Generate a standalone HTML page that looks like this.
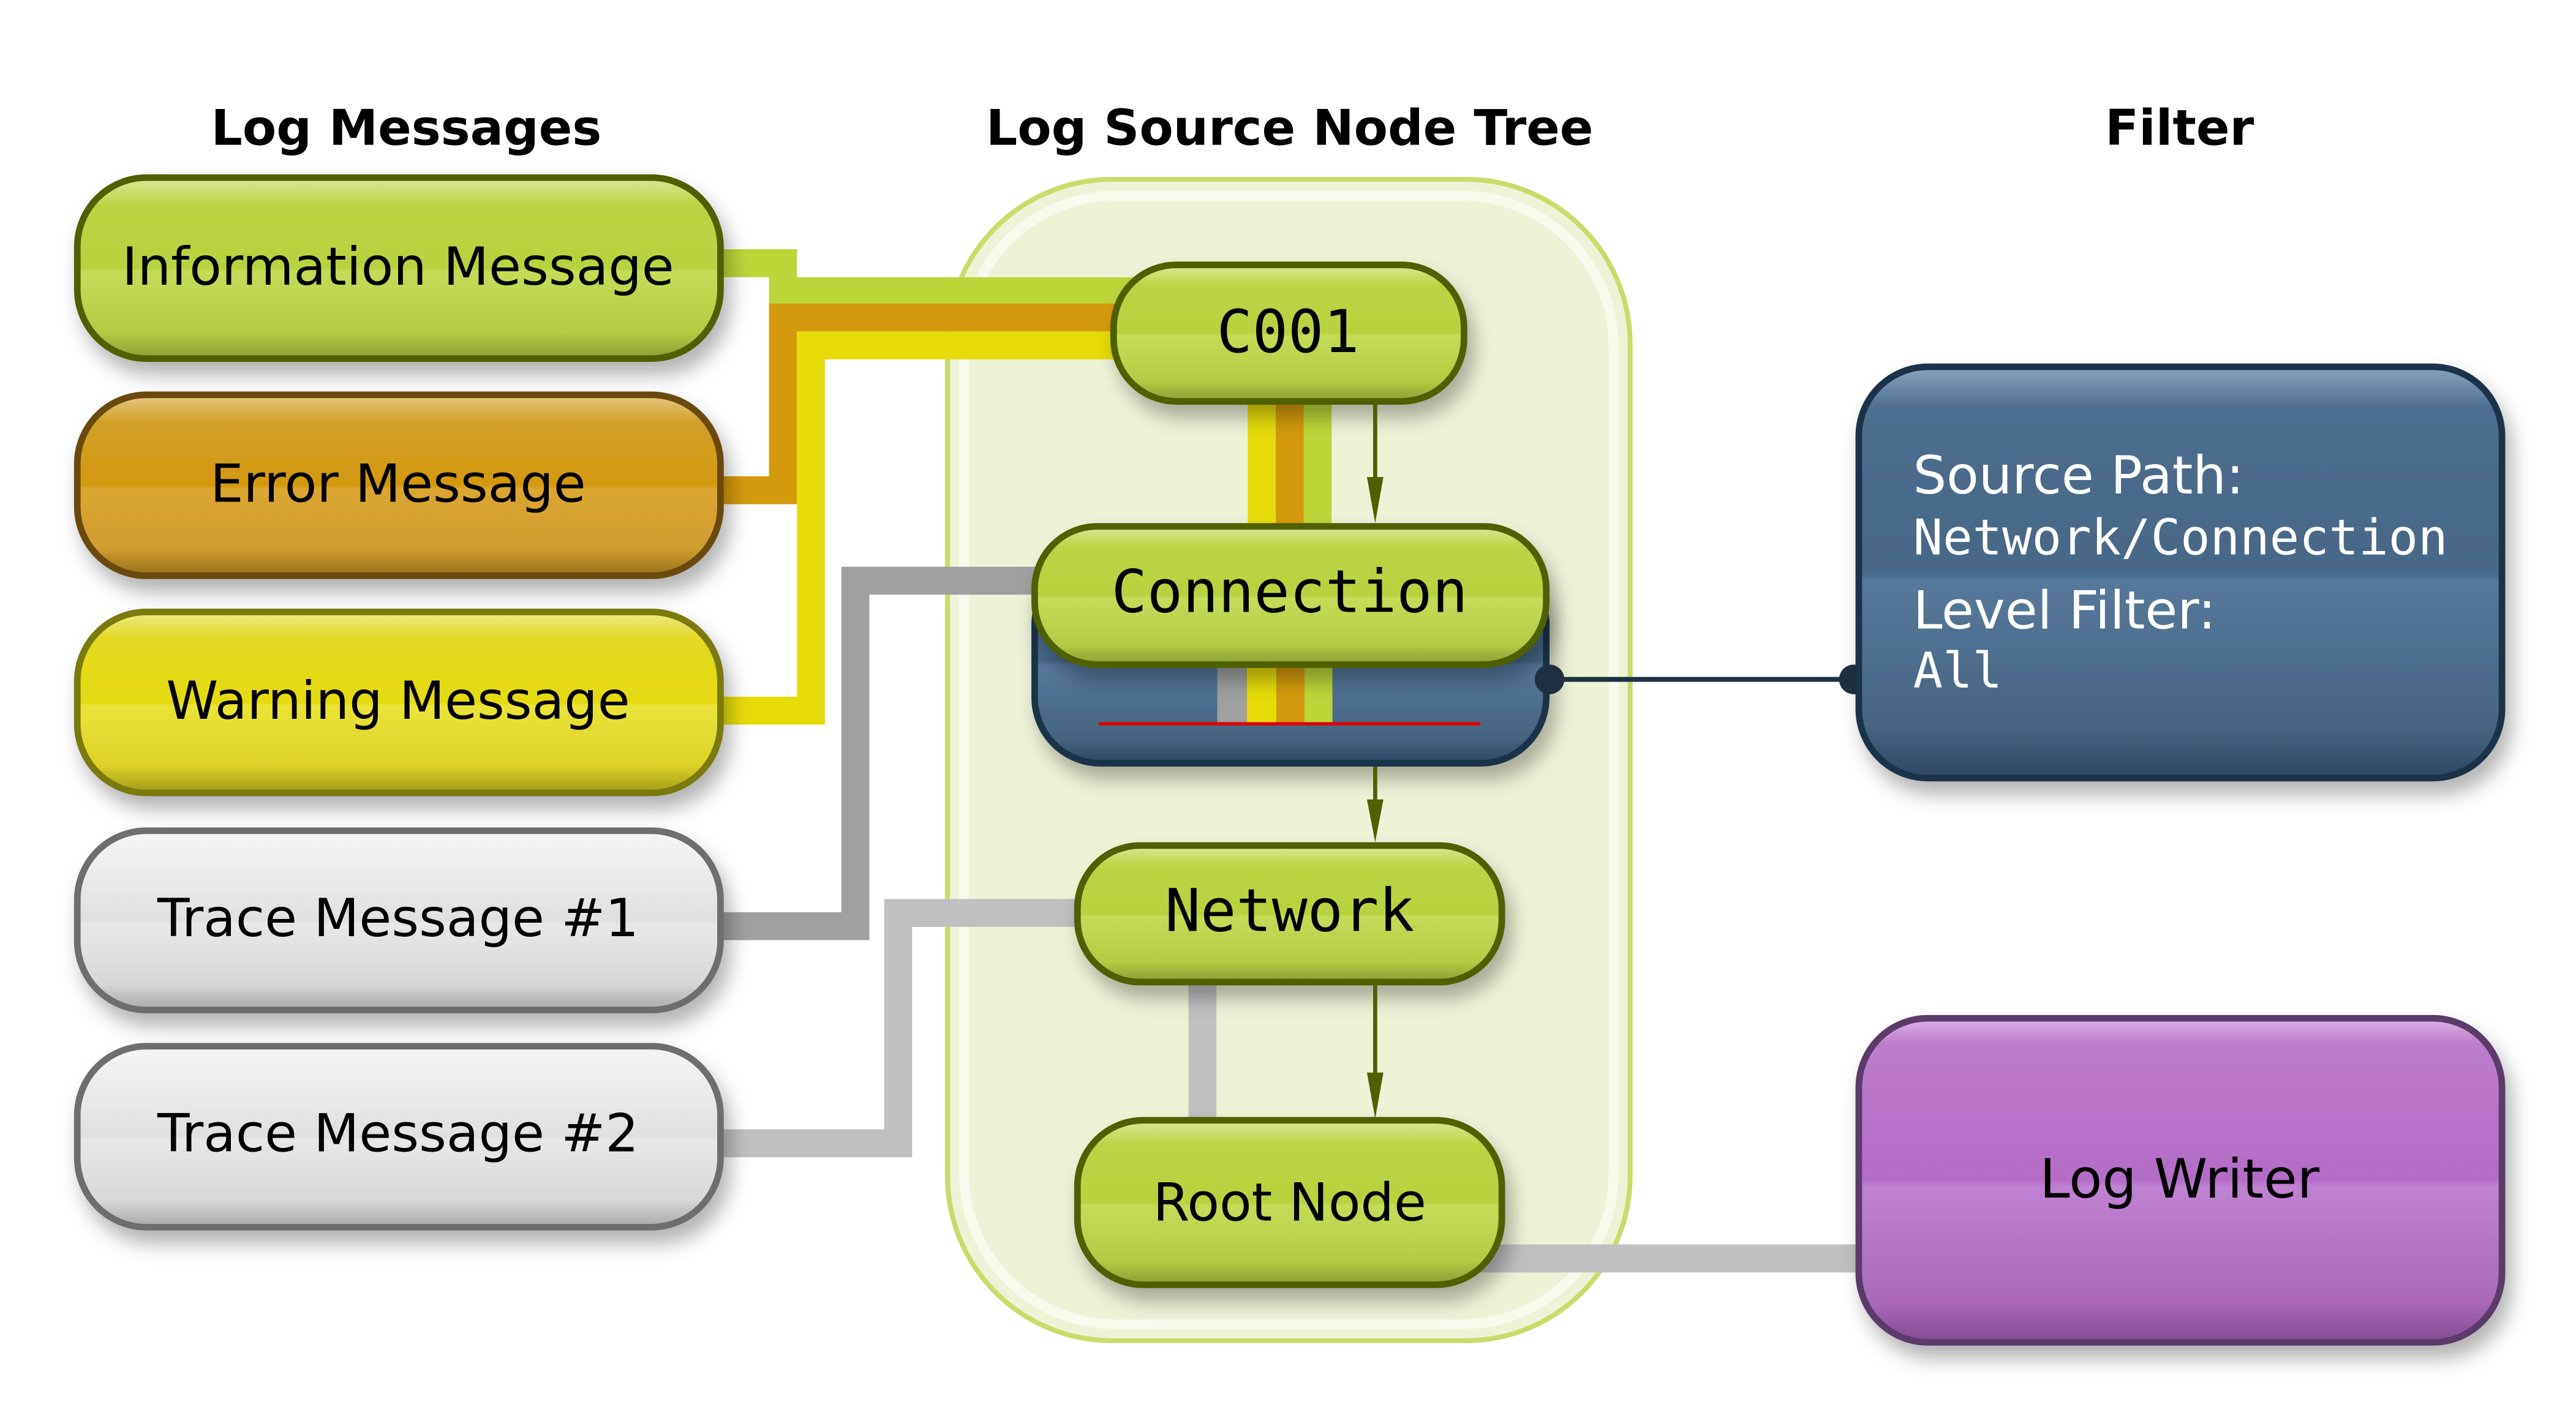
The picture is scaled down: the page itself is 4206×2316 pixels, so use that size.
<!DOCTYPE html>
<html><head><meta charset="utf-8"><style>html,body{margin:0;padding:0;background:#fff}svg{display:block}</style></head>
<body>
<svg width="4206" height="2316" viewBox="0 0 1566 862" preserveAspectRatio="none" xmlns="http://www.w3.org/2000/svg">
<defs>
<linearGradient id="gG" x1="0" y1="0" x2="0" y2="1"><stop offset="0" stop-color="#dde89a"/><stop offset="0.15" stop-color="#bcd444"/><stop offset="0.5" stop-color="#b9d240"/><stop offset="0.52" stop-color="#c4dc58"/><stop offset="0.85" stop-color="#b4cc44"/><stop offset="1" stop-color="#8a9c34"/></linearGradient>
<linearGradient id="gO" x1="0" y1="0" x2="0" y2="1"><stop offset="0" stop-color="#e6c884"/><stop offset="0.15" stop-color="#d4a02a"/><stop offset="0.5" stop-color="#d4980e"/><stop offset="0.52" stop-color="#dca632"/><stop offset="0.85" stop-color="#d09c30"/><stop offset="1" stop-color="#94701a"/></linearGradient>
<linearGradient id="gY" x1="0" y1="0" x2="0" y2="1"><stop offset="0" stop-color="#eeea8a"/><stop offset="0.15" stop-color="#e2da22"/><stop offset="0.5" stop-color="#e4da10"/><stop offset="0.52" stop-color="#eae438"/><stop offset="0.85" stop-color="#dcd228"/><stop offset="1" stop-color="#a09a18"/></linearGradient>
<linearGradient id="gW" x1="0" y1="0" x2="0" y2="1"><stop offset="0" stop-color="#f6f6f6"/><stop offset="0.5" stop-color="#e0e0e0"/><stop offset="0.52" stop-color="#e8e8e8"/><stop offset="0.85" stop-color="#d8d8d8"/><stop offset="1" stop-color="#a8a8a8"/></linearGradient>
<linearGradient id="gB" x1="0" y1="0" x2="0" y2="1"><stop offset="0" stop-color="#8aa4bc"/><stop offset="0.1" stop-color="#4e6e8e"/><stop offset="0.5" stop-color="#476786"/><stop offset="0.52" stop-color="#56789a"/><stop offset="0.88" stop-color="#466480"/><stop offset="1" stop-color="#2e4660"/></linearGradient>
<linearGradient id="gP" x1="0" y1="0" x2="0" y2="1"><stop offset="0" stop-color="#dcb4e4"/><stop offset="0.08" stop-color="#bd7ccc"/><stop offset="0.5" stop-color="#b46cc8"/><stop offset="0.52" stop-color="#c082d2"/><stop offset="0.88" stop-color="#aa68ba"/><stop offset="1" stop-color="#7e4c8e"/></linearGradient>
<filter id="sh" x="-10%" y="-10%" width="130%" height="140%"><feDropShadow dx="4" dy="8" stdDeviation="6" flood-color="#000" flood-opacity="0.3"/></filter>
</defs>

<g font-family="'DejaVu Sans','Liberation Sans',sans-serif" font-weight="bold" font-size="30" text-anchor="middle" fill="#000">
<text x="247" y="88">Log Messages</text>
<text x="784" y="88">Log Source Node Tree</text>
<text x="1325" y="88">Filter</text>
</g>

<rect x="576" y="109" width="415" height="706" rx="100" fill="#eef3d8" stroke="#c8dc6a" stroke-width="3"/>
<rect x="586" y="119" width="395" height="686" rx="92" fill="none" stroke="#f8faee" stroke-width="6"/>

<g fill="none" stroke-linejoin="miter">
<polyline points="438,160 476,160 476,177 690,177" stroke="#bcd63a" stroke-width="17"/>
<polyline points="438,298 476,298 476,193 690,193" stroke="#d49a0c" stroke-width="17"/>
<polyline points="438,432 493,432 493,210 690,210" stroke="#e6dc0a" stroke-width="17"/>
<polyline points="438,563 520,563 520,353 640,353" stroke="#a0a0a0" stroke-width="17"/>
<polyline points="438,695 546,695 546,555 665,555" stroke="#c0c0c0" stroke-width="17"/>
<line x1="900" y1="765" x2="1135" y2="765" stroke="#c0c0c0" stroke-width="17"/>
<line x1="731" y1="590" x2="731" y2="690" stroke="#c0c0c0" stroke-width="17"/>
<line x1="767" y1="240" x2="767" y2="325" stroke="#e6dc0a" stroke-width="17"/>
<line x1="784" y1="240" x2="784" y2="325" stroke="#d49a0c" stroke-width="17"/>
<line x1="801" y1="240" x2="801" y2="325" stroke="#bcd63a" stroke-width="17"/>
</g>

<g filter="url(#sh)">
<rect x="47" y="108" width="391" height="110" rx="42" fill="url(#gG)" stroke="#4f6000" stroke-width="4"/>
<rect x="47" y="240" width="391" height="110" rx="42" fill="url(#gO)" stroke="#6a4808" stroke-width="4"/>
<rect x="47" y="372" width="391" height="110" rx="42" fill="url(#gY)" stroke="#7a7a10" stroke-width="4"/>
<rect x="47" y="505" width="391" height="109" rx="42" fill="url(#gW)" stroke="#6e6e6e" stroke-width="4"/>
<rect x="47" y="636" width="391" height="110" rx="42" fill="url(#gW)" stroke="#6e6e6e" stroke-width="4"/>
</g>
<g font-family="'DejaVu Sans','Liberation Sans',sans-serif" font-size="32" text-anchor="middle" fill="#000">
<text x="242" y="173">Information Message</text>
<text x="242" y="305">Error Message</text>
<text x="242" y="437">Warning Message</text>
<text x="242" y="569">Trace Message #1</text>
<text x="242" y="700">Trace Message #2</text>
</g>

<g filter="url(#sh)">
<rect x="629" y="340" width="311" height="124" rx="40" fill="url(#gB)" stroke="#1e3248" stroke-width="4"/>
</g>
<rect x="740" y="404" width="18" height="36" fill="#a0a0a0"/>
<rect x="758" y="404" width="18" height="36" fill="#e6dc0a"/>
<rect x="776" y="404" width="17" height="36" fill="#d49a0c"/>
<rect x="793" y="404" width="17" height="36" fill="#bcd63a"/>
<line x1="668" y1="440" x2="900" y2="440" stroke="#e00000" stroke-width="2"/>

<g filter="url(#sh)">
<rect x="677" y="161" width="213" height="83" rx="38" fill="url(#gG)" stroke="#4f6000" stroke-width="4"/>
<rect x="629" y="320" width="311" height="84" rx="38" fill="url(#gG)" stroke="#4f6000" stroke-width="4"/>
<rect x="655" y="514" width="258" height="83" rx="38" fill="url(#gG)" stroke="#4f6000" stroke-width="4"/>
<rect x="655" y="681" width="258" height="100" rx="40" fill="url(#gG)" stroke="#4f6000" stroke-width="4"/>
</g>
<g stroke="#4f6000" stroke-width="2.5" fill="#4f6000">
<line x1="836" y1="246" x2="836" y2="292"/>
<path d="M831,290 L841,290 L836,318 Z" stroke="none"/>
<line x1="836" y1="466" x2="836" y2="488"/>
<path d="M831,486 L841,486 L836,512 Z" stroke="none"/>
<line x1="836" y1="599" x2="836" y2="654"/>
<path d="M831,652 L841,652 L836,680 Z" stroke="none"/>
</g>
<g font-family="'DejaVu Sans Mono','Liberation Mono',monospace" font-size="36" text-anchor="middle" fill="#000">
<text x="783" y="214">C001</text>
<text x="784" y="372">Connection</text>
<text x="784" y="566">Network</text>
</g>
<text x="784" y="742" font-family="'DejaVu Sans','Liberation Sans',sans-serif" font-size="32" text-anchor="middle">Root Node</text>

<line x1="942" y1="413" x2="1127" y2="413" stroke="#1e3040" stroke-width="3"/>
<circle cx="942" cy="413" r="9" fill="#1e3040"/>
<circle cx="1127" cy="413" r="9" fill="#1e3040"/>
<g filter="url(#sh)">
<rect x="1130" y="223" width="391" height="250" rx="42" fill="url(#gB)" stroke="#1e3248" stroke-width="4"/>
<rect x="1130" y="619" width="391" height="197" rx="42" fill="url(#gP)" stroke="#5a3a6a" stroke-width="4"/>
</g>
<g fill="#fff" font-size="32">
<text x="1163" y="300" font-family="'DejaVu Sans','Liberation Sans',sans-serif">Source Path:</text>
<text x="1163" y="337" font-family="'DejaVu Sans Mono','Liberation Mono',monospace" font-size="30">Network/Connection</text>
<text x="1163" y="382" font-family="'DejaVu Sans','Liberation Sans',sans-serif">Level Filter:</text>
<text x="1163" y="418" font-family="'DejaVu Sans Mono','Liberation Mono',monospace" font-size="30">All</text>
</g>
<text x="1325" y="728" font-family="'DejaVu Sans','Liberation Sans',sans-serif" font-size="33" text-anchor="middle">Log Writer</text>
</svg>
</body></html>
